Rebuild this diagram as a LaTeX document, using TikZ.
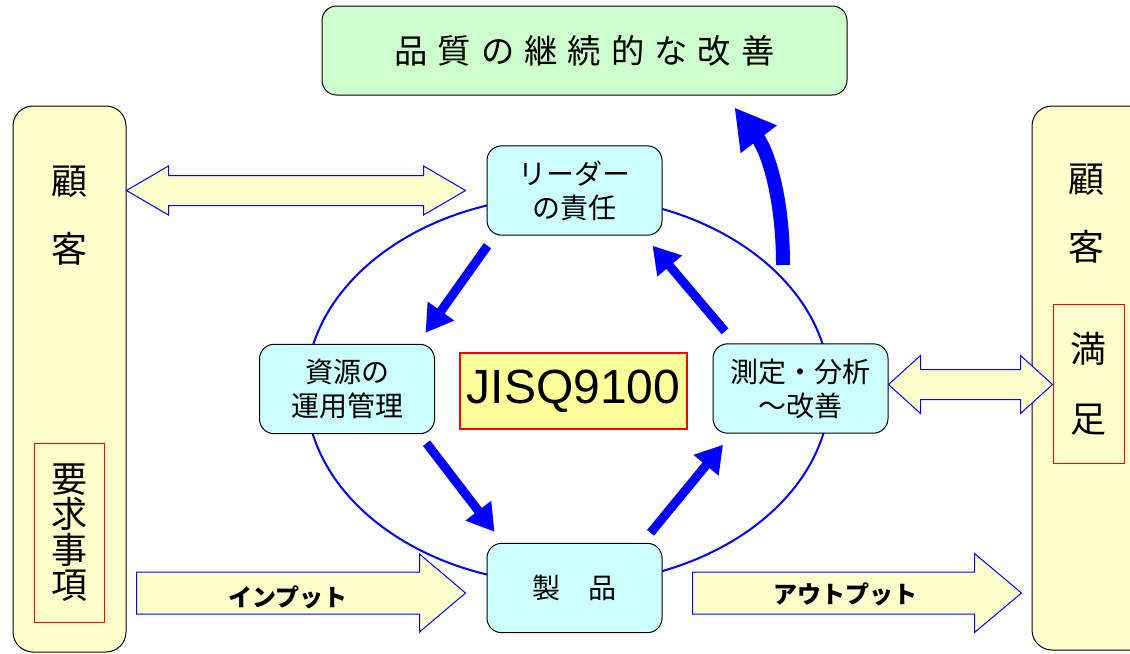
\documentclass[tikz,border=0pt]{standalone}
\usepackage{fontspec}
\setmainfont{Noto Sans CJK JP}
\newfontfamily\arialfont{Liberation Sans}
\usetikzlibrary{arrows.meta,calc}

\definecolor{qualgreen}{HTML}{CCFFCC}
\definecolor{custyellow}{HTML}{FFFFCC}
\definecolor{procblue}{HTML}{CCFFFF}
\definecolor{jisyellow}{HTML}{FFFF99}

\begin{document}
\begin{tikzpicture}[x=0.75pt,y=-0.75pt,
  box/.style={draw,line width=0.75pt,rounded corners=11pt,fill=procblue,inner sep=0pt,
    minimum width=131.25pt,minimum height=67pt,align=center,font=\fontsize{21}{25.5}\selectfont},
  col/.style={draw,line width=0.75pt,rounded corners=15pt,fill=custyellow,inner sep=0pt},
  redbox/.style={draw=red,line width=0.75pt,inner sep=0pt,align=center},
  flow/.style={blue,line width=6.75pt,-{Triangle[length=20pt,width=23pt]}},
  fatone/.style n args={3}{to path={let \p1=(\tikztostart), \p2=(\tikztotarget) in
    (\x1,\y1-#1) -- (\x2-#3,\y1-#1) -- (\x2-#3,\y1-#2) -- (\x2,\y1)
    -- (\x2-#3,\y1+#2) -- (\x2-#3,\y1+#1) -- (\x1,\y1+#1) -- cycle}},
  fattwo/.style n args={3}{to path={let \p1=(\tikztostart), \p2=(\tikztotarget) in
    (\x1,\y1) -- (\x1+#3,\y1+#2) -- (\x1+#3,\y1+#1) -- (\x2-#3,\y1+#1) -- (\x2-#3,\y1+#2)
    -- (\x2,\y1) -- (\x2-#3,\y1-#2) -- (\x2-#3,\y1-#1) -- (\x1+#3,\y1-#1) -- (\x1+#3,\y1-#2) -- cycle}},
  hollow/.style={draw=blue,line width=0.75pt,fill=custyellow},
  io/.style={font=\bfseries\fontsize{18}{18}\selectfont}]

  \useasboundingbox (0,0) rectangle (1130,653);

  % the cycle
  \draw[blue,line width=1.5pt] (568,390) ellipse [x radius=196.5pt,y radius=145.5pt];

  \node[draw,line width=0.75pt,rounded corners=11pt,fill=qualgreen,inner sep=0pt,
    minimum width=393.75pt,minimum height=66.75pt,
    font=\fontsize{25}{25}\selectfont\addfontfeature{LetterSpace=30}] (quality) at (584.5,50.5) {品質の継続的な改善};

  % customers
  \node[col,minimum width=84.75pt,minimum height=409.5pt] (custL) at (69.5,379) {};
  \node[col,minimum width=88.5pt,minimum height=408pt] (custR) at (1091,378) {};
  \node[align=center,font=\fontsize{27}{51}\selectfont] (kokyakuL) at (69,216) {顧\\客};
  \node[align=center,font=\fontsize{27}{51}\selectfont] (kokyakuR) at (1086,214) {顧\\客};
  \node[redbox,minimum width=52.5pt,minimum height=134.25pt,font=\fontsize{27}{26.5}\selectfont] (req) at (69,532.5) {要\\求\\事\\項};
  \node[redbox,minimum width=53.25pt,minimum height=119.25pt,font=\fontsize{27}{52.5}\selectfont] (sat) at (1088.5,384) {満\\足};

  % processes
  \node[box] (leader) at (574.5,190.5) {リーダー\\の責任};
  \node[box] (res) at (347,389) {資源の\\運用管理};
  \node[box] (meas) at (800.5,388.5) {測定・分析\\～改善};
  \node[box] (prod) at (574.5,588) {製　品};
  \node[draw=red,line width=1.1pt,fill=jisyellow,inner sep=0pt,minimum width=170.25pt,minimum height=57pt,
    font=\arialfont\fontsize{36}{36}\selectfont] (jis) at (573.5,391) {JISQ9100};

  \draw[flow] ($(leader.south west)+(1,10)$) -- ($(res.north east)+(-9.5,-11)$);
  \draw[flow] ($(res.south east)+(-8.5,9)$) -- ($(prod.north west)+(8,-11)$);
  \draw[flow] ($(prod.north east)+(-12,-10)$) -- ($(meas.south west)+(10.5,11)$);
  \draw[flow] ($(meas.north west)+(12.5,-12)$) -- ($(leader.south east)+(-10,10)$);

  \coordinate (up) at (783,265);
  \draw[blue,line width=10.5pt,-{Triangle[length=30pt,width=32pt]}]
    (up) .. controls (783,195) and (767,150) .. ($(quality.south)+(150,12)$);

  % in and out
  \draw[hollow,fattwo={11.25pt}{18.4pt}{31.5pt}] (custL.east |- leader.west) to ($(leader.west)+(-21,0)$);
  \draw[hollow,fattwo={11.25pt}{21.75pt}{24pt}] ($(meas.east)+(0,-4)$) to ($(sat.west |- meas.east)+(0,-4)$);
  \draw[hollow,fatone={15.75pt}{29.25pt}{34.5pt}] ($(custL.east |- prod.west)+(10,5)$) to ($(prod.west)+(-21,5)$);
  \draw[hollow,fatone={15.75pt}{29.6pt}{35.25pt}] ($(prod.east)+(30,5)$) to ($(custR.west |- prod.east)+(-10,5)$);
  \node[io] (inlbl) at (288,597) {インプット};
  \node[io] (outlbl) at (845,594) {アウトプット};

\end{tikzpicture}
\end{document}
